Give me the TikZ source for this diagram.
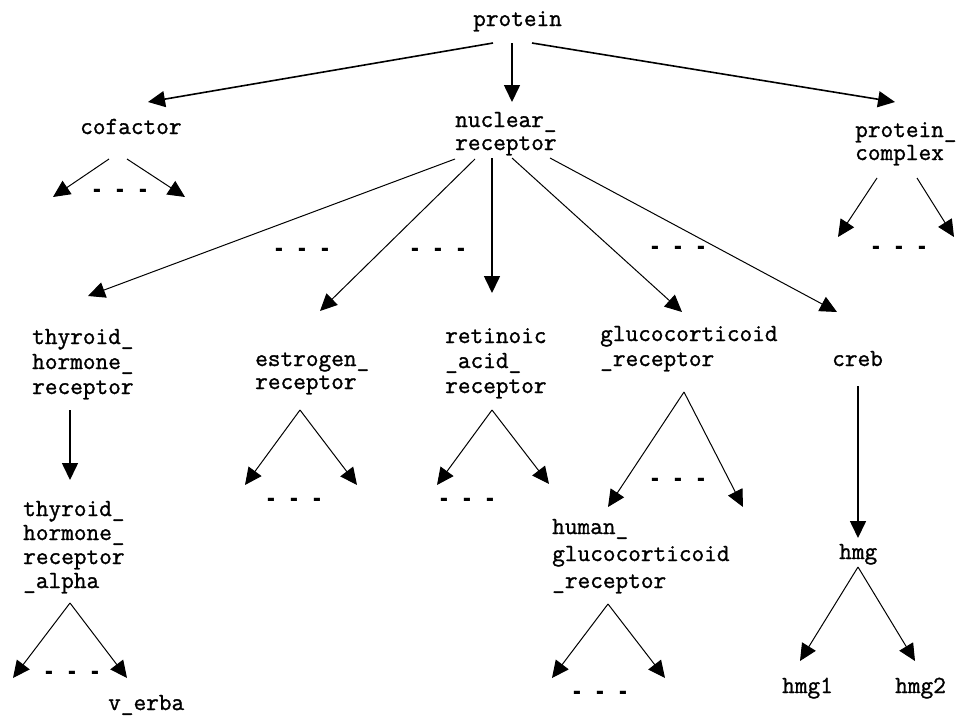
\documentclass[tikz,border=0pt]{standalone}
\usepackage{fontspec}
\usepackage{graphicx}
\newfontfamily\monofam{Liberation Mono}
\newfontfamily\typefam{Latin Modern Mono}[FakeBold=1.2,AutoFakeBold=1.2]
\usetikzlibrary{arrows.meta}
\newcommand{\sqdot}{\makebox[0pt]{\scalebox{2.0}[1]{.}}}
\newcommand{\ellip}{\sqdot\hspace{23pt}\sqdot\hspace{23pt}\sqdot}
\tikzset{
  lbl/.style={anchor=base west, inner sep=0pt, align=left,
    font=\typefam\bfseries\fontsize{24.6}{24}\selectfont},
  ell/.style={inner sep=0pt, font=\monofam\bfseries\fontsize{21.5}{24}\selectfont},
  arr/.style={-{Triangle[length=17pt,width=16pt]}, line width=1pt},
  arrthick/.style={arr, line width=1.6pt}
}
\begin{document}
\begin{tikzpicture}[x=1pt,y=-1pt]
\useasboundingbox[fill=white] (0,0) rectangle (958,716);
% labels (anchor = baseline of the last line)
\node[lbl] (protein) at (473,26) {protein};
\node[lbl] (cofactor) at (80,134) {cofactor};
\node[lbl,font=\typefam\bfseries\fontsize{24.6}{23}\selectfont] (nuclear) at (455,150) {nuclear\_\\receptor};
\node[lbl,font=\typefam\bfseries\fontsize{24.6}{23}\selectfont] (complex) at (855,160) {protein\_\\complex};
\node[lbl,font=\typefam\bfseries\fontsize{24.6}{25}\selectfont] (thr) at (32,394) {thyroid\_\\hormone\_\\receptor};
\node[lbl,font=\typefam\bfseries\fontsize{24.6}{23}\selectfont] (estr) at (255,389) {estrogen\_\\receptor};
\node[lbl,font=\typefam\bfseries\fontsize{24.6}{25}\selectfont] (retin) at (445,393) {retinoic\\\_acid\_\\receptor};
\node[lbl,font=\typefam\bfseries\fontsize{24.6}{25}\selectfont] (gluco) at (600,366) {glucocorticoid\\\_receptor};
\node[lbl] (creb) at (832,366) {creb};
\node[lbl,font=\typefam\bfseries\fontsize{24.6}{24}\selectfont] (thra) at (23,588) {thyroid\_\\hormone\_\\receptor\\\_alpha};
\node[lbl] (verba) at (108,710) {v\_erba};
\node[lbl,font=\typefam\bfseries\fontsize{24.6}{27}\selectfont] (hgluco) at (552,588) {human\_\\glucocorticoid\\\_receptor};
\node[lbl] (hmg) at (839,559) {hmg};
\node[lbl] (hmg1) at (782,693) {hmg1};
\node[lbl] (hmg2) at (895,693) {hmg2};
% ellipses
\node[ell] (e1) at (120,191) {\ellip};
\node[ell] (e2) at (302,250) {\ellip};
\node[ell] (e3) at (438,250) {\ellip};
\node[ell] (e4) at (678,248) {\ellip};
\node[ell] (e5) at (899,248) {\ellip};
\node[ell] (e6) at (72,673) {\ellip};
\node[ell] (e7) at (294,500) {\ellip};
\node[ell] (e8) at (467,500) {\ellip};
\node[ell] (e9) at (678,480) {\ellip};
\node[ell] (e10) at (600,693) {\ellip};
% coordinates
\coordinate (pA) at (493,43); \coordinate (pB) at (512,43); \coordinate (pC) at (532,43);
\coordinate (cofIn) at (148,102); \coordinate (nucIn) at (512,102); \coordinate (cmpIn) at (895,102);
\coordinate (cofS) at (109,159); \coordinate (cofT) at (127,159);
\coordinate (cofL) at (53,197); \coordinate (cofR) at (185,197);
\coordinate (nA) at (455,159); \coordinate (nB) at (475,159); \coordinate (nC) at (492,158);
\coordinate (nD) at (512,158); \coordinate (nE) at (550,158);
\coordinate (thrIn) at (88,296); \coordinate (estIn) at (320,311); \coordinate (retIn) at (492,293);
\coordinate (gluIn) at (682,312); \coordinate (crebIn) at (837,312);
\coordinate (cmpS) at (877,178); \coordinate (cmpT) at (917,178);
\coordinate (cmpL) at (838,237); \coordinate (cmpR) at (954,237);
\coordinate (thrOut) at (70,410); \coordinate (thraIn) at (70,480);
\coordinate (thraApex) at (70,603); \coordinate (thraL) at (13,678); \coordinate (thraR) at (127,678);
\coordinate (estApex) at (300,410); \coordinate (estL) at (245,485); \coordinate (estR) at (357,485);
\coordinate (retApex) at (492,410); \coordinate (retL) at (437,485); \coordinate (retR) at (549,484);
\coordinate (gluApex) at (684,392); \coordinate (gluL) at (608,507); \coordinate (gluR) at (743,507);
\coordinate (hgApex) at (608,604); \coordinate (hgL) at (552,678); \coordinate (hgR) at (665,678);
\coordinate (crebOut) at (858,386); \coordinate (hmgIn) at (858,538);
\coordinate (hmgApex) at (858,567); \coordinate (hmgL) at (800,661); \coordinate (hmgR) at (915,661);
% arrows
\draw[arrthick] (pA) -- (cofIn);
\draw[arrthick] (pB) -- (nucIn);
\draw[arrthick] (pC) -- (cmpIn);
\draw[arr] (cofS) -- (cofL);
\draw[arr] (cofT) -- (cofR);
\draw[arr] (nA) -- (thrIn);
\draw[arr] (nB) -- (estIn);
\draw[arrthick] (nC) -- (retIn);
\draw[arr] (nD) -- (gluIn);
\draw[arr] (nE) -- (crebIn);
\draw[arr] (cmpS) -- (cmpL);
\draw[arr] (cmpT) -- (cmpR);
\draw[arrthick] (thrOut) -- (thraIn);
\draw[arr] (thraApex) -- (thraL);
\draw[arr] (thraApex) -- (thraR);
\draw[arr] (estApex) -- (estL);
\draw[arr] (estApex) -- (estR);
\draw[arr] (retApex) -- (retL);
\draw[arr] (retApex) -- (retR);
\draw[arr] (gluApex) -- (gluL);
\draw[arr] (gluApex) -- (gluR);
\draw[arr] (hgApex) -- (hgL);
\draw[arr] (hgApex) -- (hgR);
\draw[arrthick] (crebOut) -- (hmgIn);
\draw[arr] (hmgApex) -- (hmgL);
\draw[arr] (hmgApex) -- (hmgR);
\end{tikzpicture}
\end{document}
